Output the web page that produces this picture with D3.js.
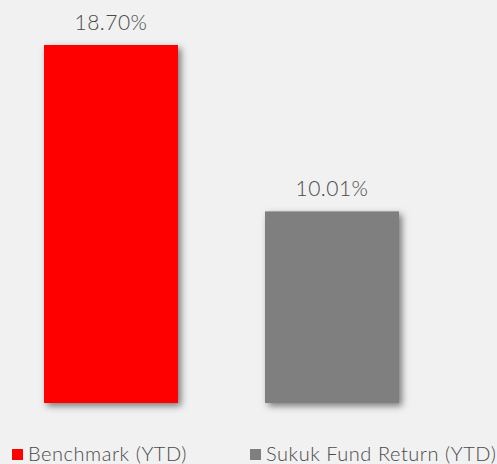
<!DOCTYPE html>
<html><head><meta charset="utf-8">
<script src="https://cdn.jsdelivr.net/npm/d3@7"></script>
<style>html,body{margin:0;padding:0;background:#f0f1f0;}svg{display:block;}</style>
</head><body>
<script>
const categories = ["Benchmark (YTD)", "Sukuk Fund Return (YTD)"];
const values = [18.70, 10.01];
const labels = ["18.70%", "10.01%"];
const colors = ["#ff0000", "#7f7f7f"];

const W = 497, H = 464;
const svg = d3.select("body").append("svg").attr("width", W).attr("height", H);
svg.append("rect").attr("width", W).attr("height", H).attr("fill", "#f0f1f0");

const defs = svg.append("defs");
const f = defs.append("filter").attr("id", "sh").attr("x", "-20%").attr("y", "-20%").attr("width", "140%").attr("height", "140%");
f.append("feDropShadow").attr("dx", 3).attr("dy", 3).attr("stdDeviation", 3.5)
  .attr("flood-color", "#000").attr("flood-opacity", 0.5);

const x = d3.scaleBand().domain(categories).range([44, 399]).paddingInner(0.3937).paddingOuter(0);
const y = d3.scaleLinear().domain([0, 18.70]).range([403, 45]);

svg.selectAll("rect.bar").data(categories).join("rect").attr("class", "bar")
  .attr("x", d => x(d)).attr("width", x.bandwidth())
  .attr("y", (d, i) => y(values[i])).attr("height", (d, i) => y(0) - y(values[i]))
  .attr("fill", (d, i) => colors[i]).attr("filter", "url(#sh)");

svg.selectAll("text.lbl").data(categories).join("text").attr("class", "lbl")
  .attr("x", d => x(d) + x.bandwidth() / 2)
  .attr("y", (d, i) => y(values[i]) - 15)
  .attr("text-anchor", "middle")
  .attr("font-family", "Lato, 'Open Sans', sans-serif").attr("font-weight", 300).attr("font-size", 21)
  .attr("letter-spacing", 0.5)
  .attr("fill", "#4a4a4a").text((d, i) => labels[i]);

const legX = [12, 250];
const lg = svg.selectAll("g.leg").data(categories).join("g").attr("class", "leg")
  .attr("transform", (d, i) => `translate(${legX[i]},449)`);
lg.append("rect").attr("width", 11).attr("height", 11).attr("fill", (d, i) => colors[i]);
lg.append("text").attr("x", 16).attr("y", 12)
  .attr("font-family", "Lato, 'Open Sans', sans-serif").attr("font-weight", 300).attr("font-size", 20)
  .attr("letter-spacing", 0.55)
  .attr("fill", "#4a4a4a").text(d => d);
</script>
</body></html>
